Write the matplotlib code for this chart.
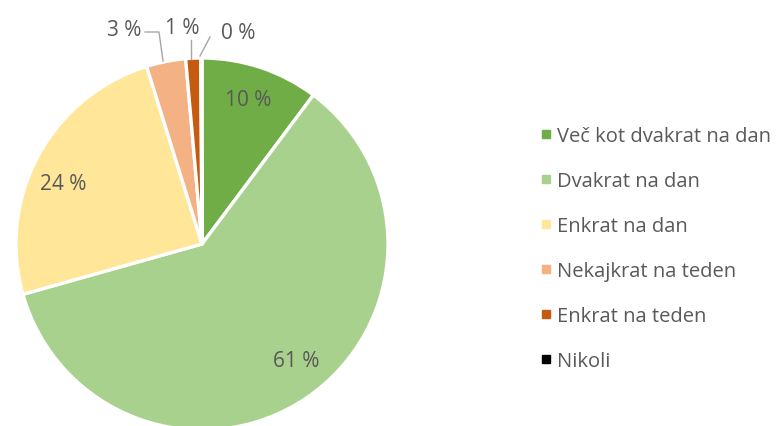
import matplotlib

matplotlib.use("Agg")
import matplotlib.pyplot as plt
from matplotlib.lines import Line2D

categories = ["Več kot dvakrat na dan", "Dvakrat na dan", "Enkrat na dan",
              "Nekajkrat na teden", "Enkrat na teden", "Nikoli"]
shares = [10.2, 60.3, 24.5, 3.4, 1.3, 0.1]
share_labels = ["10 %", "61 %", "24 %", "3 %", "1 %", "0 %"]
colors = ["#70AD47", "#A9D18E", "#FFE699", "#F4B183", "#C55A11", "#000000"]

W, H = 781, 427
fig = plt.figure(figsize=(W / 100, H / 100), dpi=100)
plt.rcParams["font.family"] = ["Open Sans", "DejaVu Sans"]
text_col = "#595959"

# pie centre (202, 245) px, radius 186 px
cx, cy, r = 202, 245, 186
ax = fig.add_axes([(cx - r) / W, (H - cy - r) / H, 2 * r / W, 2 * r / H])
wedges, _ = ax.pie(shares, colors=colors, startangle=90, counterclock=False,
                   radius=1.0, wedgeprops=dict(edgecolor="white", linewidth=2.4))
ax.set_xlim(-1, 1)
ax.set_ylim(-1, 1)
ax.set_aspect("equal")
ax.axis("off")


def px(x, y):
    # figure pixel -> pie data coords
    return ((x - cx) / r, (cy - y) / r)


fs = 15
# inside labels
for i, (x, y) in zip([0, 1, 2], [(248, 100), (296, 362), (63, 184)]):
    ax.text(*px(x, y), share_labels[i], ha="center", va="center", fontsize=fs, color=text_col)

# outside labels with leader lines
outside = {3: ((124, 30), [(145, 33), (159, 33), (163, 62)]),
           4: ((182, 28), [(191, 41), (191, 60)]),
           5: ((238, 34), [(210, 38), (200, 57)])}
for i, (pos, path) in outside.items():
    ax.text(*px(*pos), share_labels[i], ha="center", va="center", fontsize=fs, color=text_col)
    xs, ys = zip(*[px(*p) for p in path])
    ax.plot(xs, ys, color="#A6A6A6", lw=1.0, clip_on=False)

handles = [Line2D([], [], marker="s", ls="", markersize=6, markerfacecolor=c,
                  markeredgecolor=c) for c in colors]
fig.legend(handles, categories, loc="upper left", bbox_to_anchor=(530 / W, 1 - 117 / H),
           frameon=False, fontsize=14.5, labelcolor=text_col, handlelength=0.6,
           handletextpad=0.25, labelspacing=1.24, borderpad=0)

fig.savefig("out.png", dpi=100)
